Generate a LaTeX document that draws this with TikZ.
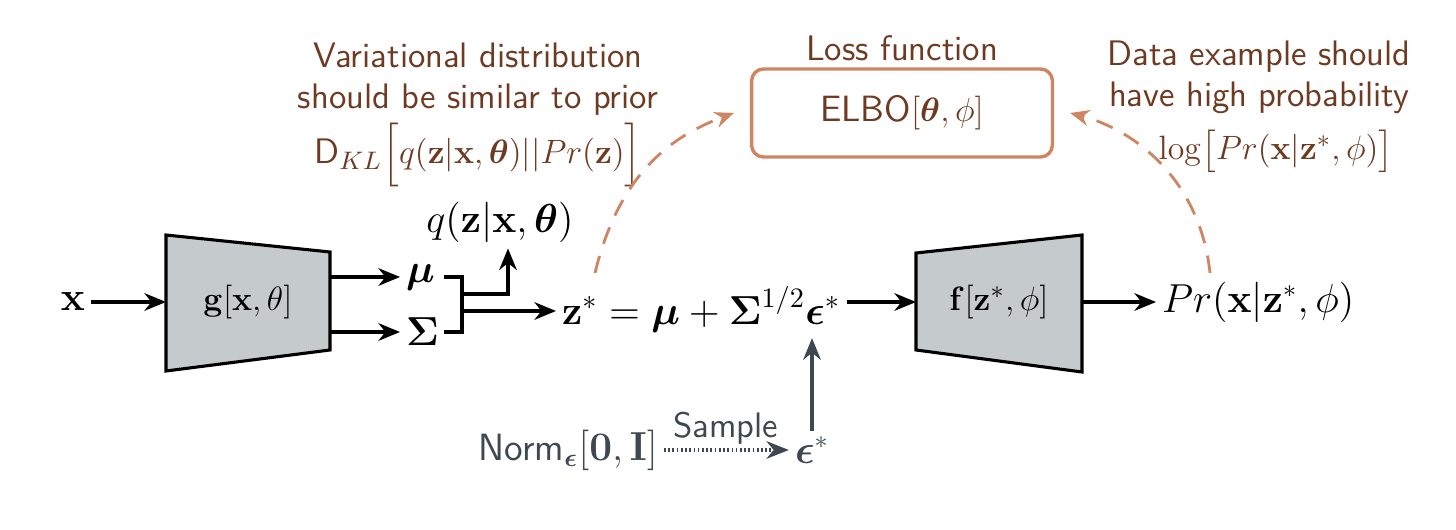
\documentclass[tikz,border=0pt]{standalone}
\usepackage{amsmath,amssymb}
\usetikzlibrary{arrows.meta,positioning,calc}
\definecolor{annot}{HTML}{6E3A22}
\definecolor{losscol}{HTML}{CF8563}
\definecolor{netfill}{HTML}{C5CBCD}
\definecolor{slate}{HTML}{3E4850}

\begin{document}
\begin{tikzpicture}[x=0.0125cm, y=-0.0125cm,
  netbox/.style={draw=black, line width=1.1pt, fill=netfill, line join=miter},
  mlabel/.style={font=\fontsize{13.5}{16}\selectfont, inner sep=2pt},
  netlabel/.style={font=\fontsize{13}{15}\selectfont, inner sep=2pt},
  tlabel/.style={font=\fontsize{12.6}{14.6}\selectfont\sffamily, text=annot, align=center, inner sep=1pt},
  arr/.style={-{Stealth[length=2.7mm, width=2.2mm]}, line width=1.15pt},
  wire/.style={line width=1.15pt},
  lossbox/.style={draw=losscol, line width=1.2pt, rounded corners=0.15cm, minimum width=3.76cm, minimum height=1.1cm, font=\fontsize{13}{15}\selectfont\sffamily, text=annot},
  lossarr/.style={-{Stealth[length=2.4mm, width=2mm]}, line width=1pt, losscol, dash pattern=on 2.2mm off 1.6mm},
  samplearr/.style={-{Stealth[length=2.8mm, width=2.2mm]}, line width=1.1pt, slate, dash pattern=on 0.6pt off 0.9pt}
]
  \useasboundingbox (0,0) rectangle (1456,530);

  % encoder
  \node[mlabel] (xin) at (73,302) {$\mathbf{x}$};
  \draw[netbox] (166,235) -- (330,252) -- (330,350) -- (166,371) -- cycle;
  \coordinate (genc-w) at (166,302);
  \coordinate (genc-mu) at (330,277);
  \coordinate (genc-sig) at (330,332);
  \node[netlabel] (genc) at (248,302) {$\mathbf{g}[\mathbf{x},\theta]$};
  \draw[arr] (xin) -- (genc-w);

  \node[mlabel, anchor=west] (mu) at (400,277) {$\boldsymbol{\mu}$};
  \node[mlabel, anchor=west] (sig) at (400,332) {$\boldsymbol{\Sigma}$};
  \draw[arr] (genc-mu) -- (mu.west |- genc-mu);
  \draw[arr] (genc-sig) -- (sig.west |- genc-sig);

  % bracket joining mu and Sigma
  \coordinate (brT) at (462,277);
  \coordinate (brB) at (462,332);
  \draw[wire] (444,277) -- (brT) -- (brB) -- (444,332);
  \node[mlabel] (qpost) at (500,222) {$q(\mathbf{z}|\mathbf{x},\boldsymbol{\theta})$};
  \draw[arr] (brT |- 0,294) -| ([xshift=0.1cm]qpost.south);

  % reparameterisation
  \node[mlabel, anchor=west, font=\fontsize{13.8}{16}\selectfont] (zeq) at (556,309) {$\mathbf{z}^{*}=\boldsymbol{\mu}+\boldsymbol{\Sigma}^{1/2}\boldsymbol{\epsilon}^{*}$};
  \draw[arr] (brT |- 0,311) -- (zeq.west |- 0,311);

  \node[mlabel, text=slate] (eps) at (812,450) {$\boldsymbol{\epsilon}^{*}$};
  \node[mlabel, text=slate, anchor=east] (norm) at (664,450) {\textsf{Norm}$_{\boldsymbol{\epsilon}}[\mathbf{0},\mathbf{I}]$};
  \draw[samplearr] (norm.east) -- (eps.west);
  \node[tlabel, text=slate] (sample) at (726,428) {Sample};
  \draw[arr, slate] (eps.north) -- (eps.north |- zeq.south);

  % decoder
  \draw[netbox] (916,253) -- (1082,235) -- (1082,372) -- (916,350) -- cycle;
  \coordinate (fdec-w) at (916,302);
  \coordinate (fdec-e) at (1082,302);
  \node[netlabel] (fdec) at (999,302) {$\mathbf{f}[\mathbf{z}^{*},\phi]$};
  \draw[arr] (zeq.east |- fdec-w) -- (fdec-w);
  \node[mlabel, anchor=west] (lik) at (1156,302) {$Pr(\mathbf{x}|\mathbf{z}^{*},\phi)$};
  \draw[arr] (fdec-e) -- (lik.west);

  % loss
  \node[lossbox] (loss) at (902,113) {ELBO$[\boldsymbol{\theta},\phi]$};
  \node[tlabel] (losslbl) at (902,48) {Loss function};

  \node[tlabel] (kltxt) at (478,79) {Variational distribution\\should be similar to prior};
  \node[tlabel] (kl) at (478,155) {D$_{KL}\Bigl[q(\mathbf{z}|\mathbf{x},\boldsymbol{\theta})||Pr(\mathbf{z})\Bigr]$};
  \node[tlabel] (datatxt) at (1259,77) {Data example should\\have high probability};
  \node[tlabel] (loglik) at (1276,151) {$\log\bigl[Pr(\mathbf{x}|\mathbf{z}^{*},\phi)\bigr]$};

  \coordinate (klstart) at (595,273);
  \coordinate (likstart) at (1210,273);
  \draw[lossarr] (klstart) .. controls (620,170) and (675,135) .. ([xshift=-0.2cm]loss.west);
  \draw[lossarr] (likstart) .. controls (1200,180) and (1135,130) .. ([xshift=0.2cm]loss.east);
\end{tikzpicture}
\end{document}
